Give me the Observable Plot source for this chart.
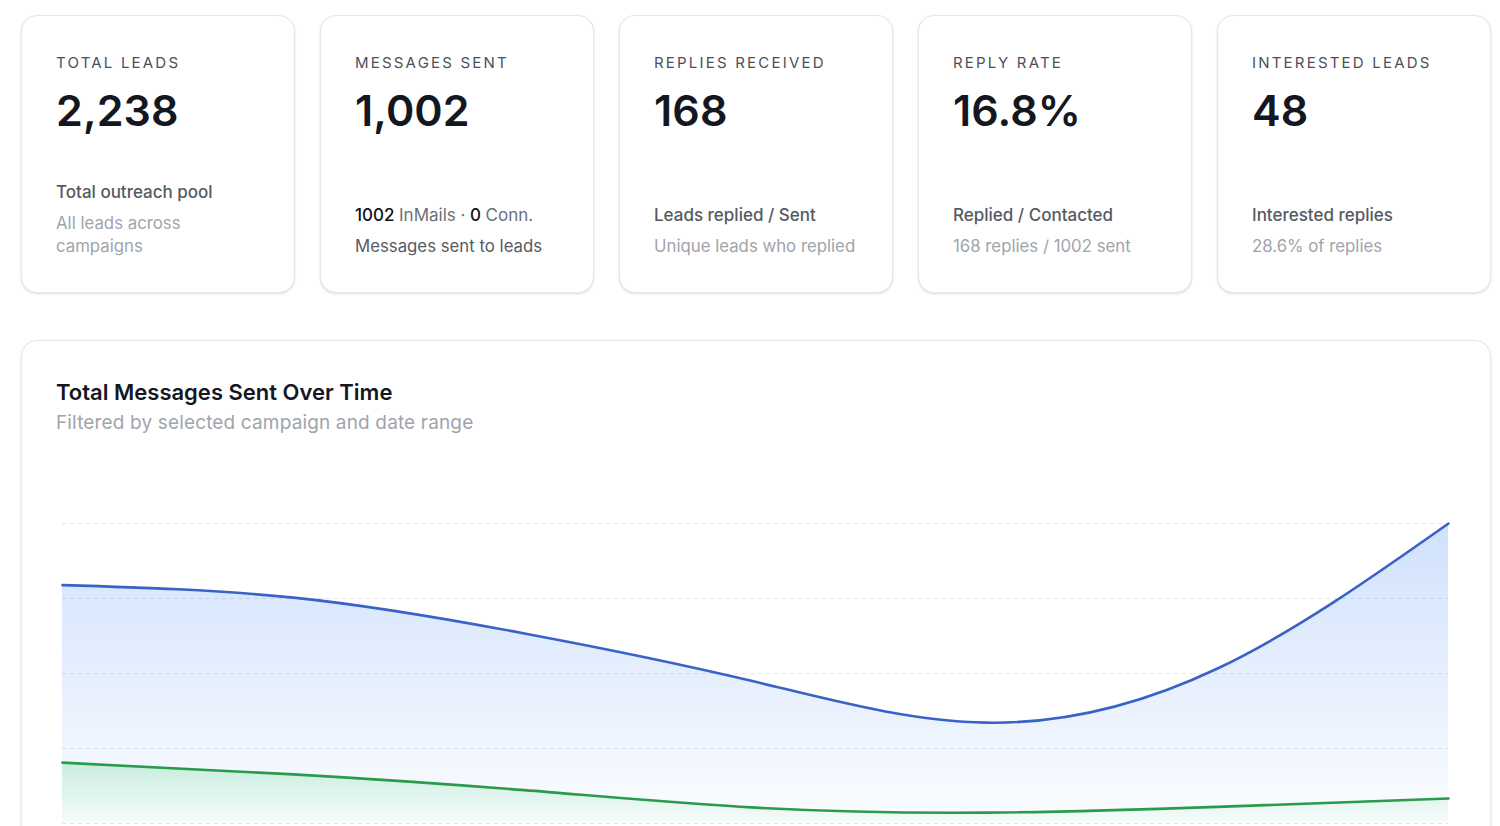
<!DOCTYPE html>
<html>
<head>
<meta charset="utf-8">
<script src="https://cdn.jsdelivr.net/npm/d3@7"></script>
<script src="https://cdn.jsdelivr.net/npm/@observablehq/plot@0.6"></script>
<style>
  html, body { margin: 0; padding: 0; background: #ffffff; }
  body { font-family: Inter, "Noto Sans", sans-serif; width: 1500px; height: 826px; overflow: hidden; }
  .wrap { position: absolute; left: 21px; top: 15px; width: 1470px; }
  .row { display: flex; gap: 25px; }
  .card {
    box-sizing: border-box; width: 274px; height: 278px;
    border: 1px solid #e6e7ea; border-radius: 16px; background: #fff;
    box-shadow: 0 1px 3px rgba(0,0,0,0.09), 0 1px 2px rgba(0,0,0,0.05);
    padding: 36px 34px 34px 34px;
    display: flex; flex-direction: column; justify-content: space-between;
  }
  .label { font-size: 15px; line-height: 22px; letter-spacing: 2.2px; color: #4b5058; text-transform: uppercase; }
  .value { font-size: 43px; line-height: 48px; font-weight: 600; color: #14171f; margin-top: 12px; letter-spacing: 0.1px; }
  .cap { font-size: 17px; line-height: 23px; color: #555a63; font-weight: 500; margin-bottom: 8px; }
  .cap b { color: #111318; font-weight: 500; }
  .cap .g { color: #6b7079; font-weight: 400; }
  .sub { font-size: 16.8px; line-height: 23px; color: #a0a4ab; max-width: 206px; }
  .sub.dark { color: #555a63; }
  .chartcard {
    box-sizing: border-box; margin-top: 47px; width: 1470px; height: 560px;
    border: 1px solid #e6e7ea; border-radius: 16px; background: #fff;
    box-shadow: 0 1px 3px rgba(0,0,0,0.09), 0 1px 2px rgba(0,0,0,0.05);
    padding: 37px 34px 0 34px;
  }
  .ctitle { font-size: 22px; line-height: 28px; font-weight: 600; color: #14171f; }
  .csub { font-size: 19px; line-height: 26px; color: #a0a4ab; margin-top: 4px; letter-spacing: 0.15px; }
  #chart { margin-top: 24px; }
</style>
</head>
<body>
<div class="wrap">
  <div class="row" id="cards"></div>
  <div class="chartcard">
    <div class="ctitle">Total Messages Sent Over Time</div>
    <div class="csub">Filtered by selected campaign and date range</div>
    <div id="chart"></div>
  </div>
</div>
<script>
// KPI cards
const kpiLabels = ["Total Leads", "Messages Sent", "Replies Received", "Reply Rate", "Interested Leads"];
const kpiValues = ["2,238", "1,002", "168", "16.8%", "48"];
const kpiCaptions = ["Total outreach pool", null, "Leads replied / Sent", "Replied / Contacted", "Interested replies"];
const kpiSubs = ["All leads across campaigns", "Messages sent to leads", "Unique leads who replied", "168 replies / 1002 sent", "28.6% of replies"];

// Chart series (values at 7 evenly spaced periods)
const periods = ["P1", "P2", "P3", "P4", "P5", "P6", "P7"];
const sentValues = [286, 271, 228, 170, 121, 186, 360];
const repliesValues = [73, 59, 40, 19, 13, 20, 30];
const yTicks = [0, 90, 180, 270, 360];

const cards = document.getElementById("cards");
kpiLabels.forEach((lab, i) => {
  const c = document.createElement("div");
  c.className = "card";
  let capHtml;
  if (i === 1) {
    capHtml = `<div class="cap"><b>1002</b> <span class="g">InMails ·</span> <b>0</b> <span class="g">Conn.</span></div>`;
  } else {
    capHtml = `<div class="cap">${kpiCaptions[i]}</div>`;
  }
  c.innerHTML = `<div><div class="label">${lab}</div><div class="value">${kpiValues[i]}</div></div>
    <div>${capHtml}<div class="sub${i === 1 ? " dark" : ""}">${kpiSubs[i]}</div></div>`;
  cards.appendChild(c);
});

const sent = periods.map((p, i) => ({period: p, value: sentValues[i]}));
const replies = periods.map((p, i) => ({period: p, value: repliesValues[i]}));

const chart = Plot.plot({
  width: 1400,
  height: 390,
  marginLeft: 6,
  marginRight: 8,
  marginTop: 63,
  marginBottom: 27,
  x: {type: "point", domain: periods, padding: 0, axis: null},
  y: {domain: [0, 360], axis: null},
  marks: [
    Plot.gridY(yTicks, {stroke: "#e3e4e7", strokeOpacity: 1, strokeDasharray: "4,4", strokeWidth: 1}),
    Plot.areaY(sent, {x: "period", y: "value", curve: "natural", fill: "url(#gradBlue)"}),
    Plot.areaY(replies, {x: "period", y: "value", curve: "natural", fill: "url(#gradGreen)"}),
    Plot.lineY(sent, {x: "period", y: "value", curve: "natural", stroke: "#3a62c6", strokeWidth: 2.6}),
    Plot.lineY(replies, {x: "period", y: "value", curve: "natural", stroke: "#2a9b4a", strokeWidth: 2.6})
  ]
});

const svg = d3.select(chart);
const defs = svg.insert("defs", ":first-child");
const g1 = defs.append("linearGradient").attr("id", "gradBlue").attr("x1", 0).attr("y1", 0).attr("x2", 0).attr("y2", 1);
g1.append("stop").attr("offset", "0%").attr("stop-color", "#3b82f6").attr("stop-opacity", 0.24);
g1.append("stop").attr("offset", "100%").attr("stop-color", "#3b82f6").attr("stop-opacity", 0.02);
const g2 = defs.append("linearGradient").attr("id", "gradGreen").attr("x1", 0).attr("y1", 0).attr("x2", 0).attr("y2", 1);
g2.append("stop").attr("offset", "0%").attr("stop-color", "#22c55e").attr("stop-opacity", 0.2);
g2.append("stop").attr("offset", "100%").attr("stop-color", "#22c55e").attr("stop-opacity", 0.02);

document.getElementById("chart").appendChild(chart);
</script>
</body>
</html>
